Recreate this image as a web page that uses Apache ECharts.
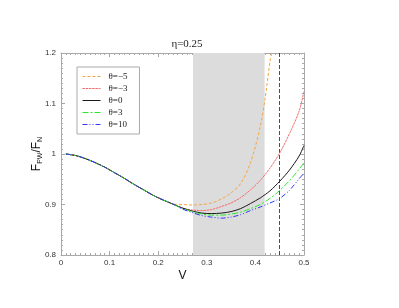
<!DOCTYPE html>
<html><head><meta charset="utf-8">
<script src="https://cdn.jsdelivr.net/npm/echarts@6/dist/echarts.min.js"></script>
<style>html,body{margin:0;padding:0;background:#fff}#c{width:399px;height:308px}</style>
</head><body><div id="c"></div>
<script>
// ---- data ----
var commonV = [0.01,0.03,0.05,0.07,0.09,0.11,0.13,0.15,0.17,0.19,0.21,0.23];
var commonF = [1.000,0.997,0.991,0.983,0.974,0.963,0.952,0.940,0.929,0.918,0.909,0.901];
var tailV   = [0.25,0.27,0.29,0.31,0.33,0.35,0.37,0.39,0.41,0.43,0.45,0.47,0.49,0.50];
var orangeTailV = [0.25,0.27,0.29,0.31,0.33,0.35,0.37,0.39,0.41,0.42,0.43,0.4335];
var thetaM5 = [0.900,0.899,0.900,0.903,0.911,0.923,0.942,0.983,1.054,1.110,1.183,1.200];
var thetaM3 = [0.893,0.889,0.888,0.890,0.896,0.903,0.914,0.929,0.948,0.972,1.002,1.040,1.085,1.124];
var theta0  = [0.893,0.887,0.883,0.882,0.883,0.886,0.892,0.902,0.913,0.927,0.946,0.968,0.996,1.017];
var theta3  = [0.892,0.886,0.881,0.879,0.879,0.881,0.885,0.892,0.900,0.912,0.928,0.947,0.970,0.983];
var theta10 = [0.891,0.884,0.878,0.875,0.873,0.875,0.880,0.888,0.895,0.903,0.912,0.928,0.951,0.962];
var seriesNames = ['θ=−5','θ=−3','θ=0','θ=3','θ=10'];
var shadeRange = [0.2716, 0.419];
var dashedV = 0.4466;
var xTickLabels = ['0','0.1','0.2','0.3','0.4','0.5'];
var yTickLabels = ['0.8','0.9','1','1.1','1.2'];

function pairs(xs, ys){ var out=[]; for(var i=0;i<xs.length;i++) out.push([xs[i],ys[i]]); return out; }
function build(tv, tf){ return pairs(commonV.concat(tv), commonF.concat(tf)); }

var colors = ['#f5a442','#f26d6d','#1a1a1a','#2fe62f','#3535f5'];
var dashes = [[3,2],[2.5,0.7],'solid',[6,2,2,2],[5,2,1,2,1,2]];
var datas = [build(orangeTailV,thetaM5), build(tailV,thetaM3), build(tailV,theta0), build(tailV,theta3), build(tailV,theta10)];

var axisCol = '#a8a8a8';
function mkX(pos, show){
  return {type:'value', position:pos, min:0, max:0.5, interval:0.1,
    axisLine:{show:true, onZero:false, lineStyle:{color:axisCol,width:1}},
    axisTick:{show:true, inside:true, length:4, lineStyle:{color:axisCol}},
    minorTick:{show:true, splitNumber:10, length:2, lineStyle:{color:axisCol}},
    splitLine:{show:false},
    axisLabel:{show:show, margin:4, fontSize:8, color:'#333', fontFamily:'Liberation Sans',
      formatter:function(v){ return xTickLabels[Math.round(v*10)]; }},
    name: show ? 'V' : '', nameLocation:'middle', nameGap:15, nameMoveOverlap:false,
    nameTextStyle:{fontSize:12, color:'#111', fontFamily:'Liberation Sans'}
  };
}
function mkY(pos, show){
  return {type:'value', position:pos, min:0.8, max:1.2, interval:0.1,
    axisLine:{show:true, onZero:false, lineStyle:{color:axisCol,width:1}},
    axisTick:{show:true, inside:true, length:4, lineStyle:{color:axisCol}},
    minorTick:{show:true, splitNumber:10, length:2, lineStyle:{color:axisCol}},
    splitLine:{show:false},
    axisLabel:{show:show, margin:5, fontSize:8, color:'#333', fontFamily:'Liberation Sans',
      formatter:function(v){ return yTickLabels[Math.round((v-0.8)*10)]; }},
    name: show ? '{m|F}{s|PW}{m|/F}{s|N}' : '', nameLocation:'middle', nameGap:17, nameMoveOverlap:false,
    nameTextStyle:{rich:{
      m:{fontSize:12, color:'#111', fontFamily:'Liberation Sans', lineHeight:14},
      s:{fontSize:7, color:'#111', fontFamily:'Liberation Sans', verticalAlign:'bottom', lineHeight:14, padding:[4,0,0,0]}
    }}
  };
}

var series = [];
series.push({type:'line', name:'_shade', data:[], xAxisIndex:0, yAxisIndex:0, silent:true,
  markArea:{silent:true, itemStyle:{color:'#dcdcdc'}, data:[[{xAxis:shadeRange[0]},{xAxis:shadeRange[1]}]]},
  markLine:{silent:true, symbol:'none', label:{show:false},
    lineStyle:{color:'#222', type:[4,2], width:0.8}, data:[{xAxis:dashedV}]}
});
for (var i=0;i<5;i++){
  series.push({type:'line', name:seriesNames[i], data:datas[i], smooth:0.3, symbol:'none',
    showSymbol:false, clip:true, z:5,
    lineStyle:{color:colors[i], width:1, type:dashes[i]}, itemStyle:{color:colors[i]}});
}

var chart = echarts.init(document.getElementById('c'), null, {renderer:'canvas'});
chart.setOption({
  animation:false,
  backgroundColor:'#fff',
  title:{text:'η=0.25', left:182, top:34, textAlign:'center',
    textStyle:{fontSize:11, fontWeight:'normal', color:'#222', fontFamily:'Liberation Serif'}},
  grid:{left:61, right:95, top:53, bottom:53},
  xAxis:[mkX('bottom',true), mkX('top',false)],
  yAxis:[mkY('left',true), mkY('right',false)],
  legend:{data:seriesNames, orient:'vertical', left:77, top:67, itemWidth:18, itemHeight:9, itemGap:3,
    padding:[5,12,5,5], borderColor:'#aaa', borderWidth:1, backgroundColor:'#fff',
    itemStyle:{opacity:0}, lineStyle:{width:1, color:'inherit', type:'inherit'},
    textStyle:{fontSize:9, color:'#222', fontFamily:'Liberation Serif', padding:[0,0,0,3]}},
  series:series
});
</script></body></html>
